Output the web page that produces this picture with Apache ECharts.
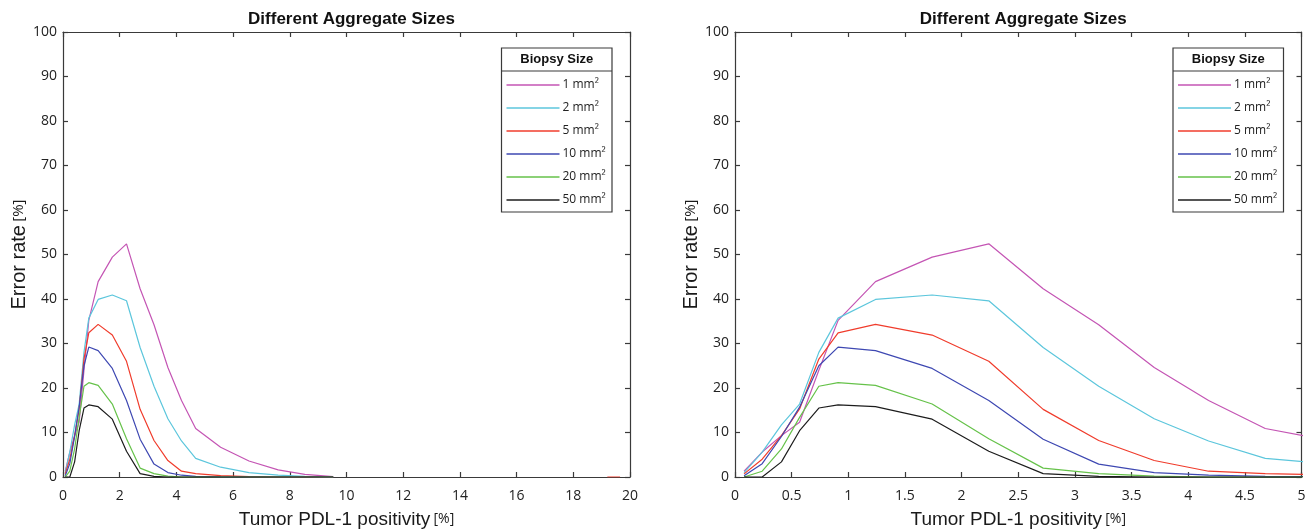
<!DOCTYPE html>
<html>
<head>
<meta charset="utf-8">
<script src="https://cdn.jsdelivr.net/npm/echarts@6/dist/echarts.min.js"></script>
<style>
  html, body { margin: 0; padding: 0; background: #fff; }
  #chart { width: 1311px; height: 532px; }
</style>
</head>
<body>
<div id="chart"></div>
<script>
// Tumor PDL-1 positivity [%] sampled for every biopsy size
const POSITIVITY = [0.08, 0.24, 0.41, 0.57, 0.74, 0.91, 1.24, 1.74, 2.24, 2.72,
                    3.21, 3.70, 4.18, 4.68, 5.56, 6.56, 7.59, 8.53, 9.53];

// Error rate [%] per biopsy size
const ERR_1MM  = [1.3, 5.6, 9.3, 12.3, 24.0, 35.2, 43.9, 49.4, 52.4, 42.3,
                  34.2, 24.6, 17.2, 10.9, 6.7, 3.6, 1.6, 0.6, 0.1];
const ERR_2MM  = [1.0, 5.6, 11.7, 16.4, 28.0, 35.7, 39.9, 40.9, 39.6, 29.1,
                  20.4, 13.1, 8.1, 4.2, 2.2, 1.0, 0.4, 0.15, 0];
const ERR_5MM  = [0.7, 4.0, 9.3, 15.3, 26.5, 32.4, 34.3, 31.9, 26.0, 15.2,
                  8.2, 3.7, 1.3, 0.75, 0.3, 0.1, 0, 0, 0];
const ERR_10MM = [0.3, 3.0, 9.1, 15.7, 25.0, 29.2, 28.4, 24.4, 17.2, 8.5,
                  2.9, 1.0, 0.4, 0.15, 0.05, 0, 0, 0, 0];
const ERR_20MM = [0, 1.3, 6.3, 13.4, 20.4, 21.2, 20.6, 16.4, 8.6, 2.0,
                  0.75, 0.2, 0, 0, 0, 0, 0, 0, 0];
const ERR_50MM = [0, 0, 3.4, 10.4, 15.5, 16.2, 15.8, 13.0, 5.8, 0.75,
                  0.15, 0, 0, 0, 0, 0, 0, 0, 0];

// short trailing segment of the 5 mm² curve near the end of the range
const ERR_5MM_TAIL_X = [19.2, 19.65];
const ERR_5MM_TAIL_Y = [0, 0];

const SIZE_NAMES = ['1 mm²', '2 mm²', '5 mm²', '10 mm²', '20 mm²', '50 mm²'];
const SIZE_VALUES = [ERR_1MM, ERR_2MM, ERR_5MM, ERR_10MM, ERR_20MM, ERR_50MM];
const SIZE_COLORS = ['#c455b4', '#5cc6dc', '#f03c2c', '#3e48b2', '#66c24a', '#1c1c1c'];

const TITLE = 'Different Aggregate Sizes';
const X_NAME = 'Tumor PDL-1 positivity';
const Y_NAME = 'Error rate';
const LEGEND_TITLE = 'Biopsy Size';

// panel frames in pixels
const PANELS = [
  { left: 63, right: 630, xMax: 20, xStep: 2 },
  { left: 735, right: 1301.5, xMax: 5, xStep: 0.5 }
];
const PLOT_TOP = 32, PLOT_BOTTOM = 477;

const AXIS_COLOR = '#3a3a3a';
const TICK_FONT = { fontFamily: 'Open Sans', fontSize: 14, color: '#222' };

const grids = [], xAxes = [], yAxes = [], series = [], legends = [], titles = [], graphics = [];

PANELS.forEach((p, k) => {
  grids.push({
    left: p.left, width: p.right - p.left, top: PLOT_TOP, height: PLOT_BOTTOM - PLOT_TOP,
    containLabel: false, outerBoundsMode: 'none'
  });
  const axisLine = { show: true, onZero: false, lineStyle: { color: AXIS_COLOR, width: 1.2 } };
  const tick = { show: true, inside: true, length: 5, lineStyle: { color: AXIS_COLOR, width: 1.2 } };
  // bottom + mirrored top x axis
  xAxes.push({
    type: 'value', gridIndex: k, position: 'bottom', min: 0, max: p.xMax, interval: p.xStep,
    axisLine, axisTick: tick, splitLine: { show: false },
    axisLabel: Object.assign({ margin: 12 }, TICK_FONT),
    name: '{a|' + X_NAME + '} {b|[%]}', nameLocation: 'middle', nameGap: 33,
    nameTextStyle: { rich: {
      a: { fontFamily: 'Liberation Sans', fontSize: 19, color: '#1a1a1a' },
      b: { fontFamily: 'Open Sans', fontSize: 14, color: '#1a1a1a' } } }
  });
  xAxes.push({
    type: 'value', gridIndex: k, position: 'top', min: 0, max: p.xMax, interval: p.xStep,
    axisLine, axisTick: tick, axisLabel: { show: false }, splitLine: { show: false }
  });
  // left + mirrored right y axis
  yAxes.push({
    type: 'value', gridIndex: k, position: 'left', min: 0, max: 100, interval: 10,
    axisLine, axisTick: tick, splitLine: { show: false },
    axisLabel: Object.assign({ margin: 6 }, TICK_FONT),
    name: '{a|' + Y_NAME + '} {b|[%]}', nameLocation: 'middle', nameGap: 34, nameRotate: 90,
    nameTextStyle: { rich: {
      a: { fontFamily: 'Liberation Sans', fontSize: 20, color: '#1a1a1a' },
      b: { fontFamily: 'Open Sans', fontSize: 15, color: '#1a1a1a' } } }
  });
  yAxes.push({
    type: 'value', gridIndex: k, position: 'right', min: 0, max: 100, interval: 10,
    axisLine, axisTick: tick, axisLabel: { show: false }, splitLine: { show: false }
  });

  SIZE_NAMES.forEach((name, s) => {
    const data = POSITIVITY.map((x, i) => [x, SIZE_VALUES[s][i]]);
    if (s === 2) {
      data.push([10, '-']);
      ERR_5MM_TAIL_X.forEach((x, i) => data.push([x, ERR_5MM_TAIL_Y[i]]));
    }
    series.push({
      type: 'line', name, xAxisIndex: 2 * k, yAxisIndex: 2 * k, data,
      showSymbol: false, symbol: 'none', clip: true, animation: false,
      lineStyle: { color: SIZE_COLORS[s], width: 1.2 },
      itemStyle: { color: SIZE_COLORS[s] }
    });
  });

  const cx = (p.left + p.right) / 2;
  titles.push({
    text: TITLE, left: cx, top: 6, textAlign: 'center',
    textStyle: { fontFamily: 'Liberation Sans', fontSize: 17, fontWeight: 'bold', color: '#111' }
  });

  // legend frame: box, heading and separator
  const boxL = p.right - 128.5, boxR = p.right - 18, boxT = 48, boxB = 212, sepY = 71;
  graphics.push({
    type: 'rect', z: 5, shape: { x: boxL, y: boxT, width: boxR - boxL, height: boxB - boxT },
    style: { fill: '#fff', stroke: AXIS_COLOR, lineWidth: 1.2 }
  });
  graphics.push({
    type: 'line', z: 6, shape: { x1: boxL, y1: sepY, x2: boxR, y2: sepY },
    style: { stroke: AXIS_COLOR, lineWidth: 1.2 }
  });
  graphics.push({
    type: 'text', z: 6, x: (boxL + boxR) / 2, y: (boxT + sepY) / 2,
    style: { text: LEGEND_TITLE, fill: '#111', font: 'bold 13px "Liberation Sans"',
             textAlign: 'center', textVerticalAlign: 'middle' }
  });
  legends.push({
    show: true, orient: 'vertical', left: boxL + 5, top: 77, z: 10, padding: 0,
    itemWidth: 53, itemHeight: 1.5, itemGap: 7, icon: 'rect',
    data: SIZE_NAMES, selectedMode: false,
    textStyle: { fontFamily: 'Open Sans', fontSize: 12, color: '#222', lineHeight: 16, padding: [0, 0, 0, -2] }
  });
});

const chart = echarts.init(document.getElementById('chart'), null, { renderer: 'canvas' });
chart.setOption({
  backgroundColor: '#fff',
  animation: false,
  title: titles,
  grid: grids,
  xAxis: xAxes,
  yAxis: yAxes,
  legend: legends,
  graphic: graphics,
  series
});
</script>
</body>
</html>
